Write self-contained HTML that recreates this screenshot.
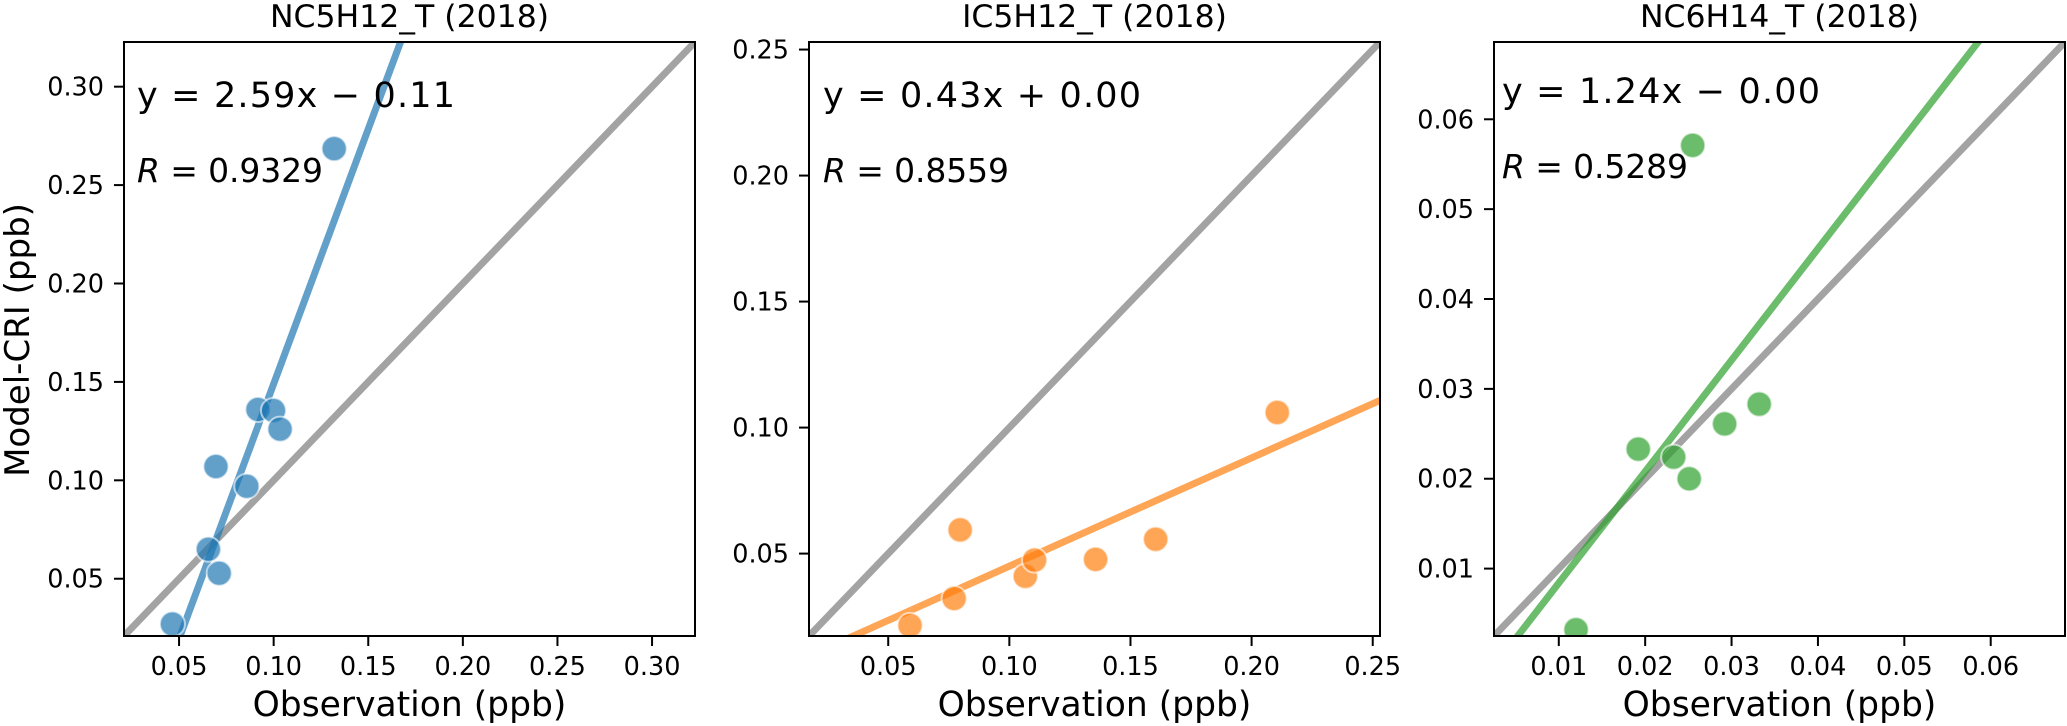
<!DOCTYPE html>
<html><head><meta charset="utf-8"><style>
html,body{margin:0;padding:0;background:#fff;overflow:hidden;width:2067px;height:726px;}
svg{display:block;font-family:"DejaVu Sans","Liberation Sans",sans-serif;}
</style></head><body>
<svg id="chart" width="2067" height="726" viewBox="0 0 2067 726" xmlns="http://www.w3.org/2000/svg"></svg>
<script>
// ---- data ----
const titles = ["NC5H12_T (2018)", "IC5H12_T (2018)", "NC6H14_T (2018)"];
const obsNC5 = [0.0465, 0.0655, 0.0712, 0.0695, 0.0858, 0.0917, 0.0999, 0.1034, 0.132];
const modNC5 = [0.027, 0.065, 0.0528, 0.107, 0.097, 0.136, 0.1355, 0.126, 0.2685];
const obsIC5 = [0.059, 0.0772, 0.0797, 0.1066, 0.1104, 0.1356, 0.1604, 0.2106];
const modIC5 = [0.0215, 0.0322, 0.0594, 0.041, 0.0474, 0.0477, 0.0557, 0.106];
const obsNC6 = [0.012, 0.0192, 0.0233, 0.0251, 0.0292, 0.0332, 0.0255];
const modNC6 = [0.0032, 0.0233, 0.0224, 0.0200, 0.0261, 0.0283, 0.0571];
const slopes = [2.59, 0.43, 1.24];
const intercepts = [-0.11, 0.002, -0.004];
const eqLabels = ["y = 2.59x \u2212 0.11", "y = 0.43x + 0.00", "y = 1.24x \u2212 0.00"];
const rLabels = ["0.9329", "0.8559", "0.5289"];
const ranges = [[0.0209, 0.3227], [0.0173, 0.2530], [0.0025, 0.0686]];
const tickVals1 = [0.05, 0.10, 0.15, 0.20, 0.25, 0.30];
const tickVals2 = [0.05, 0.10, 0.15, 0.20, 0.25];
const tickVals3 = [0.01, 0.02, 0.03, 0.04, 0.05, 0.06];
const tickDigits = [2, 2, 2];

const panels = [
  {left:124, obs:obsNC5, mod:modNC5, ticks:tickVals1, color:"#1f77b4", eqx:13},
  {left:809, obs:obsIC5, mod:modIC5, ticks:tickVals2, color:"#ff7f0e", eqx:14},
  {left:1494, obs:obsNC6, mod:modNC6, ticks:tickVals3, color:"#2ca02c", eqx:8}
];
const TOP = 42, BOT = 636, W = 571;
const NS = "http://www.w3.org/2000/svg";
const svg = document.getElementById("chart");
function mk(tag, attrs, parent){
  const e = document.createElementNS(NS, tag);
  for (const k in attrs) e.setAttribute(k, attrs[k]);
  (parent||svg).appendChild(e);
  return e;
}

panels.forEach((p, i) => {
  const [lo, hi] = ranges[i];
  const L = p.left;
  const sx = v => L + (v - lo) / (hi - lo) * W;
  const sy = v => BOT - (v - lo) / (hi - lo) * (BOT - TOP);
  const g = mk("g", {});
  
  
  const cid = "clip" + i;
  const cp = mk("clipPath", {id: cid}, g);
  mk("rect", {x:L, y:TOP, width:W, height:BOT-TOP}, cp);
  const plot = mk("g", {"clip-path": "url(#" + cid + ")"}, g);
  const one = mk("line", {x1:sx(lo), y1:sy(lo), x2:sx(hi), y2:sy(hi), stroke:"#999", "stroke-width":7, "stroke-opacity":0.9}, plot);
  
  
  const fy = x => slopes[i] * x + intercepts[i];
  const fit = mk("line", {x1:sx(lo), y1:sy(fy(lo)), x2:sx(hi), y2:sy(fy(hi)), stroke:p.color, "stroke-width":7, "stroke-opacity":0.7}, plot);
  
  
  p.obs.forEach((o, j) => {
    const c = mk("circle", {cx:sx(o), cy:sy(p.mod[j]), r:12.5, fill:p.color, "fill-opacity":0.7, stroke:"#fff", "stroke-opacity":0.6, "stroke-width":2}, plot);
    
    
  });
  const fr = mk("rect", {x:L, y:TOP, width:W, height:BOT-TOP, fill:"none", stroke:"#000", "stroke-width":2}, g);
  
  
  p.ticks.forEach(t => {
    const x = sx(t);
    mk("line", {x1:x, y1:BOT, x2:x, y2:BOT+10, stroke:"#000", "stroke-width":2}, g);
    const tl = mk("text", {x:x, y:675, "font-size":25.5, "text-anchor":"middle"}, g);
    tl.textContent = t.toFixed(tickDigits[i]);
    
    
  });
  p.ticks.forEach(t => {
    const y = sy(t);
    mk("line", {x1:L-10, y1:y, x2:L, y2:y, stroke:"#000", "stroke-width":2}, g);
    const tl = mk("text", {x:L-20, y:y+9, "font-size":25.5, "text-anchor":"end"}, g);
    tl.textContent = t.toFixed(tickDigits[i]);
    
    
  });
  const ti = mk("text", {x:L + W/2, y:27, "font-size":31.5, "text-anchor":"middle"}, g);
  ti.textContent = titles[i];
  
  
  const eq = mk("text", {x:L + p.eqx, y:i==2?103:107, "font-size":35, textLength:318, lengthAdjust:"spacing"}, g);
  eq.textContent = eqLabels[i];
  
  
  const rt = mk("text", {x:L + p.eqx, y:i==2?178:182, "font-size":33, textLength:186, lengthAdjust:"spacing"}, g);
  rt.innerHTML = '<tspan font-style="italic">R</tspan> = ' + rLabels[i];
  
  
  const xl = mk("text", {x:L + W/2, y:716, "font-size":34.5, "text-anchor":"middle"}, g);
  xl.textContent = "Observation (ppb)";
  
  
});
const yl = mk("text", {x:0, y:0, "font-size":34, "text-anchor":"middle", transform:"translate(29,340) rotate(-90)"});
yl.textContent = "Model-CRI (ppb)";


</script>
</body></html>
